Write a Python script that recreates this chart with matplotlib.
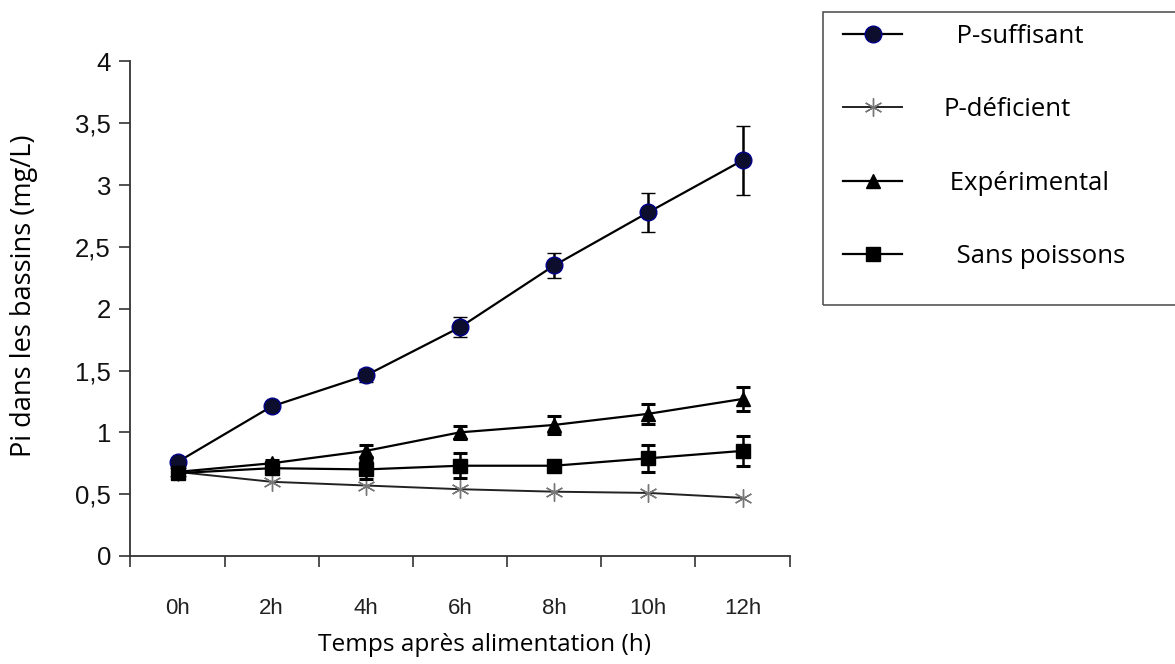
import matplotlib
matplotlib.use("Agg")
import matplotlib.pyplot as plt
from matplotlib.patches import Rectangle

# data
temps = ["0h", "2h", "4h", "6h", "8h", "10h", "12h"]

p_suffisant = [0.76, 1.21, 1.46, 1.85, 2.35, 2.78, 3.20]
p_suffisant_err = [0.03, 0.02, 0.05, 0.08, 0.10, 0.16, 0.28]

p_deficient = [0.68, 0.60, 0.57, 0.54, 0.52, 0.51, 0.47]

experimental = [0.68, 0.75, 0.85, 1.00, 1.06, 1.15, 1.27]
experimental_err = [0.02, 0.03, 0.05, 0.05, 0.07, 0.08, 0.10]

sans_poissons = [0.67, 0.71, 0.70, 0.73, 0.73, 0.79, 0.85]
sans_poissons_err = [0.02, 0.03, 0.08, 0.10, 0.04, 0.11, 0.12]

y_ticks = [0, 0.5, 1, 1.5, 2, 2.5, 3, 3.5, 4]
y_labels = ["0", "0,5", "1", "1,5", "2", "2,5", "3", "3,5", "4"]

x = list(range(len(temps)))

fig = plt.figure(figsize=(11.75, 6.64), dpi=100)
ax = fig.add_axes([0.111, 0.1627, 0.561, 0.7447])

ln_suff = ax.errorbar(x, p_suffisant, yerr=p_suffisant_err, color="black", lw=1.6,
                      marker="o", ms=12, mfc="#0d0d2e", mec="#00008b", mew=1,
                      ecolor="black", elinewidth=1.8, capsize=5, capthick=2.2, zorder=3)
ln_exp = ax.errorbar(x, experimental, yerr=experimental_err, color="black", lw=1.6,
                     marker="^", ms=10, mfc="black", mec="black",
                     ecolor="black", elinewidth=1.8, capsize=5, capthick=2.2, zorder=3)
ln_sans = ax.errorbar(x, sans_poissons, yerr=sans_poissons_err, color="black", lw=1.6,
                      marker="s", ms=10, mfc="black", mec="black",
                      ecolor="black", elinewidth=1.8, capsize=5, capthick=2.2, zorder=4)
ln_def, = ax.plot(x, p_deficient, color="#222222", lw=1.4,
                  marker=(6, 2, 0), ms=13, mec="#777777", mew=1.0, zorder=3)

ax.set_xlim(-0.5, len(temps) - 0.5)
ax.set_ylim(0, 4)

# ticks at category boundaries, labels centred on categories
ax.set_xticks([i - 0.5 for i in range(len(temps) + 1)])
ax.set_xticklabels([])
ax.set_xticks(x, minor=True)
ax.set_xticklabels(temps, minor=True, fontsize=16,
                   family=["Liberation Sans", "DejaVu Sans"])
ax.tick_params(axis="x", which="major", direction="out", length=8, width=1.2, color="#333333")
ax.tick_params(axis="x", which="minor", length=0, pad=30, colors="#222222")

ax.set_yticks(y_ticks)
ax.set_yticklabels(y_labels, fontsize=18.5, family=["Liberation Sans", "DejaVu Sans"])
ax.tick_params(axis="y", direction="out", length=8, width=1.2, pad=6, color="#333333",
               labelcolor="#111111")

for s in ["top", "right"]:
    ax.spines[s].set_visible(False)
for s in ["left", "bottom"]:
    ax.spines[s].set_linewidth(1.3)
    ax.spines[s].set_color("#333333")

ax.set_xlabel("Temps après alimentation (h)", fontsize=17.6, family=["Open Sans", "DejaVu Sans"])
ax.xaxis.set_label_coords(0.5375, -0.155)
ax.set_ylabel("Pi dans les bassins (mg/L)", fontsize=19.5, family=["Open Sans", "DejaVu Sans"])
ax.yaxis.set_label_coords(-0.14, 0.526)

# legend box running past the right edge
fig.add_artist(Rectangle((823 / 1175, 1 - 305 / 664), 0.4, 293 / 664, transform=fig.transFigure,
                         fill=False, edgecolor="#555555", lw=1.2, clip_on=False))

leg = fig.legend([ln_suff.lines[0], ln_def, ln_exp.lines[0], ln_sans.lines[0]],
                 ["  P-suffisant", "P-déficient", " Expérimental", "  Sans poissons"],
                 loc="upper left", bbox_to_anchor=(843 / 1175, 1 - 24 / 664),
                 frameon=False, borderpad=0, borderaxespad=0, handlelength=2.3,
                 handletextpad=1.6, labelspacing=1.88,
                 prop={"family": ["Open Sans", "DejaVu Sans"], "size": 18.5})

fig.savefig("out.png", dpi=100)
